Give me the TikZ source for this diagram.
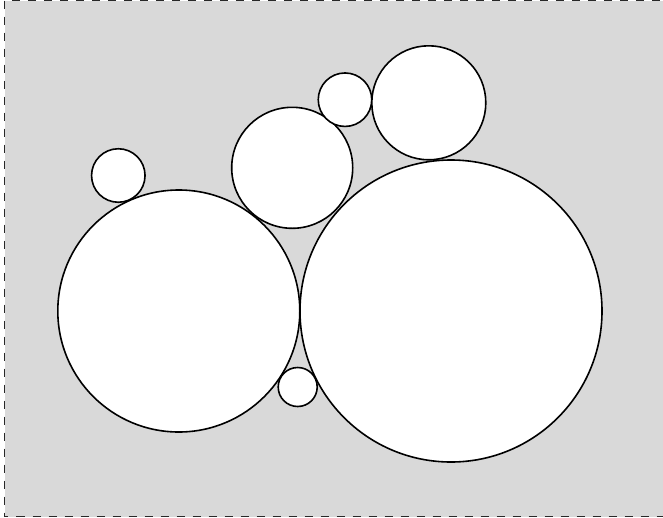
\documentclass[tikz,border=0pt]{standalone}
\begin{document}
\begin{tikzpicture}[x=1pt,y=-1pt,
  ball/.style={circle,draw=black,fill=white,line width=1.6pt,inner sep=0pt,outer sep=0pt}]
\useasboundingbox (0,0) rectangle (663,517);
\begin{scope}
\clip (0,0) rectangle (663,517);
\draw[fill={rgb,255:red,217;green,217;blue,217},draw={rgb,255:red,40;green,40;blue,40},line width=1pt,dash pattern=on 8pt off 8pt] (4.5,0.5) rectangle (680,516.5);
\end{scope}
\node[ball,minimum size=242pt] (L) at (178.8,311) {};
\node[ball,minimum size=302pt] (R) at (451,311) {};
\node[ball,minimum size=39pt] (b) at (297.7,387) {};
\node[ball,minimum size=53.5pt] (tl) at (118.3,175.5) {};
\node[ball,minimum size=121pt] (m) at (292.2,167.8) {};
\node[ball,minimum size=53.5pt] (ts) at (345,99.7) {};
\node[ball,minimum size=114pt] (tr) at (428.8,102.8) {};
\end{tikzpicture}
\end{document}
